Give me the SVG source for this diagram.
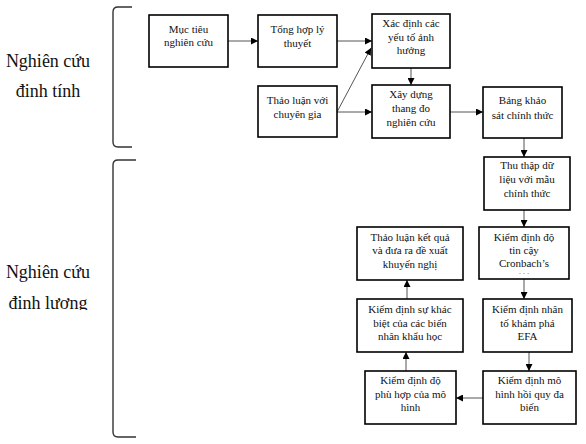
<svg xmlns="http://www.w3.org/2000/svg" width="586" height="444" viewBox="0 0 586 444" font-family="Liberation Serif, Times New Roman, serif">
<defs>
<marker id="ah" viewBox="0 0 10 10" refX="10" refY="5" markerWidth="7" markerHeight="7" markerUnits="userSpaceOnUse" orient="auto">
<path d="M0,0 L10,5 L0,10 z" fill="#000"/>
</marker>
<clipPath id="cl"><rect x="0" y="0" width="110" height="310"/></clipPath>
</defs>
<style>
.box{fill:#fff;stroke:#000;stroke-width:1.6}
.t{font-size:11px;fill:#111;text-anchor:middle}
.big{font-size:18px;fill:#111;text-anchor:middle}
.c{fill:none;stroke:#555;stroke-width:1;marker-end:url(#ah)}
.br{fill:none;stroke:#333;stroke-width:1.4}
</style>
<rect width="586" height="444" fill="#fff"/>
<g id="labels" font-family="Liberation Serif">
<text class="big" x="48" y="67">Nghiên cứu</text>
<text class="big" x="48" y="97">đinh tính</text>
<text class="big" x="48" y="278">Nghiên cứu</text>
<text class="big" x="48" y="309" clip-path="url(#cl)">đinh lương</text>
</g>
<g id="brackets">
<path class="br" d="M132,7 L118,7 Q113,7 113,12 L113,142 Q113,147 118,147 L132,147"/>
<path class="br" d="M136,160 L118,160 Q113,160 113,165 L113,432 Q113,437 118,437 L136,437"/>
</g>
<g id="connectors">
<line class="c" x1="228" y1="41" x2="258" y2="41"/>
<line class="c" x1="337" y1="41" x2="372" y2="41"/>
<line class="c" x1="337" y1="112" x2="371" y2="48"/>
<line class="c" x1="337" y1="112" x2="372" y2="112"/>
<line class="c" x1="411" y1="68" x2="411" y2="85"/>
<line class="c" x1="450" y1="112" x2="483" y2="112"/>
<line class="c" x1="524" y1="138" x2="524" y2="157"/>
<line class="c" x1="524" y1="210" x2="524" y2="227"/>
<line class="c" x1="524" y1="279" x2="524" y2="299"/>
<line class="c" x1="529" y1="352" x2="529" y2="371"/>
<line class="c" x1="483" y1="398" x2="456" y2="398"/>
<line class="c" x1="406" y1="371" x2="406" y2="352"/>
<line class="c" x1="407" y1="299" x2="407" y2="280"/>
</g>
<g font-family="Liberation Serif">
<g id="n1"><rect class="box" x="149" y="15" width="79" height="52"/>
<text class="t" x="188.5" y="33">Mục tiêu</text><text class="t" x="188.5" y="46">nghiên cứu</text></g>
<g id="n2"><rect class="box" x="258" y="15" width="79" height="52"/>
<text class="t" x="297.5" y="33">Tổng hợp lý</text><text class="t" x="297.5" y="46.5">thuyết</text></g>
<g id="n3"><rect class="box" x="258" y="86" width="79" height="51"/>
<text class="t" x="297.5" y="104">Thảo luận với</text><text class="t" x="297.5" y="117.5">chuyên gia</text></g>
<g id="n4"><rect class="box" x="372" y="14" width="78" height="54"/>
<text class="t" x="411" y="27">Xác định các</text><text class="t" x="411" y="40.5">yếu tố ảnh</text><text class="t" x="411" y="54">hưởng</text></g>
<g id="n5"><rect class="box" x="372" y="85" width="78" height="53"/>
<text class="t" x="411" y="98">Xây dựng</text><text class="t" x="411" y="112">thang đo</text><text class="t" x="411" y="126">nghiên cứu</text></g>
<g id="n6"><rect class="box" x="483" y="87" width="79" height="51"/>
<text class="t" x="522.5" y="104">Bảng khảo</text><text class="t" x="522.5" y="118.5">sát chính thức</text></g>
<g id="n7"><rect class="box" x="484" y="157" width="86" height="53"/>
<text class="t" x="527" y="169">Thu thập dữ</text><text class="t" x="527" y="183">liệu với mẫu</text><text class="t" x="527" y="197">chính thức</text></g>
<g id="n8"><rect class="box" x="479" y="227" width="90" height="52"/>
<text class="t" x="524" y="241">Kiểm định độ</text><text class="t" x="524" y="254">tin cậy</text><text class="t" x="524" y="267">Cronbach’s</text><text class="t" x="524" y="276" style="font-size:7px">· · ·</text></g>
<g id="n9"><rect class="box" x="357" y="227" width="106" height="53"/>
<text class="t" x="410" y="241">Thảo luận kết quả</text><text class="t" x="410" y="254">và đưa ra đề xuất</text><text class="t" x="410" y="267.5">khuyến nghị</text></g>
<g id="n10"><rect class="box" x="357" y="299" width="106" height="53"/>
<text class="t" x="410" y="313">Kiểm định sự khác</text><text class="t" x="410" y="326.5">biệt của các biến</text><text class="t" x="410" y="340">nhân khẩu học</text></g>
<g id="n11"><rect class="box" x="483" y="299" width="89" height="53"/>
<text class="t" x="527.5" y="313">Kiểm định nhân</text><text class="t" x="527.5" y="326.5">tố khám phá</text><text class="t" x="527.5" y="340">EFA</text></g>
<g id="n12"><rect class="box" x="365" y="371" width="91" height="53"/>
<text class="t" x="410.5" y="384">Kiểm định độ</text><text class="t" x="410.5" y="397.5">phù hợp của mô</text><text class="t" x="410.5" y="411">hình</text></g>
<g id="n13"><rect class="box" x="483" y="371" width="93" height="53"/>
<text class="t" x="529.5" y="384">Kiểm định mô</text><text class="t" x="529.5" y="397.5">hình hồi quy đa</text><text class="t" x="529.5" y="411">biến</text></g>
</g>
</svg>
